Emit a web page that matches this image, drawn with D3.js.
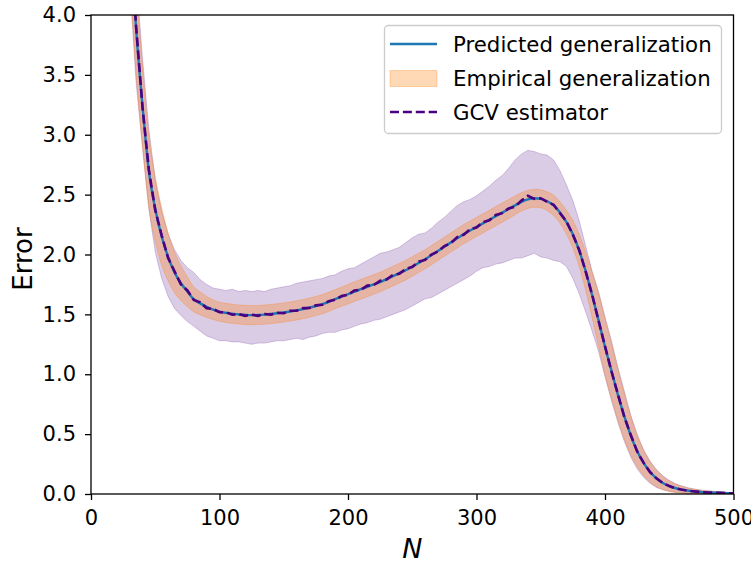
<!DOCTYPE html>
<html><head><meta charset="utf-8">
<script src="https://cdn.jsdelivr.net/npm/d3@7"></script>
<style>
html,body{margin:0;padding:0;background:#fff;}
svg{display:block;font-family:"DejaVu Sans",sans-serif;}
</style></head>
<body>
<svg id="chart" width="751" height="563"></svg>
<script>
// sample sizes N (every 5 from 30 to 500)
const nValues = d3.range(30, 501, 5);

const predicted = [
  4.80, 3.90, 3.25, 2.70, 2.38, 2.15, 1.98, 1.85, 1.76, 1.69,
  1.625, 1.592, 1.562, 1.54, 1.522, 1.512, 1.505, 1.499, 1.496, 1.494,
  1.495, 1.498, 1.503, 1.509, 1.516, 1.524, 1.533, 1.544, 1.556, 1.57,
  1.585, 1.605, 1.627, 1.648, 1.668, 1.69, 1.71, 1.73, 1.75, 1.77,
  1.795, 1.82, 1.845, 1.87, 1.90, 1.93, 1.96, 1.995, 2.03, 2.065,
  2.10, 2.135, 2.17, 2.20, 2.23, 2.26, 2.29, 2.32, 2.35, 2.38,
  2.41, 2.44, 2.46, 2.47, 2.465, 2.445, 2.41, 2.35, 2.27, 2.17,
  2.03, 1.86, 1.66, 1.45, 1.23, 1.03, 0.83, 0.65, 0.49, 0.36,
  0.26, 0.185, 0.13, 0.092, 0.066, 0.048, 0.036, 0.027, 0.021, 0.016,
  0.013, 0.011, 0.009, 0.007, 0.006
];

const empiricalStd = [
  0.45, 0.38, 0.33, 0.30, 0.27, 0.24, 0.20, 0.17, 0.145, 0.125,
  0.105, 0.095, 0.088, 0.083, 0.08, 0.08, 0.08, 0.08, 0.08, 0.08,
  0.08, 0.08, 0.08, 0.08, 0.08, 0.08, 0.08, 0.08, 0.08, 0.08,
  0.08, 0.08, 0.08, 0.08, 0.082, 0.082, 0.082, 0.082, 0.082, 0.082,
  0.082, 0.082, 0.082, 0.082, 0.082, 0.08, 0.08, 0.08, 0.08, 0.08,
  0.08, 0.08, 0.08, 0.08, 0.08, 0.08, 0.08, 0.08, 0.08, 0.08,
  0.078, 0.076, 0.075, 0.075, 0.075, 0.078, 0.085, 0.09, 0.10, 0.115,
  0.135, 0.16, 0.19, 0.22, 0.23, 0.23, 0.21, 0.19, 0.16, 0.13,
  0.105, 0.085, 0.068, 0.053, 0.042, 0.034, 0.027, 0.022, 0.018, 0.014,
  0.012, 0.01, 0.008, 0.006, 0.005
];

const gcvMean = [
  4.78, 3.92, 3.24, 2.71, 2.37, 2.16, 1.97, 1.86, 1.75, 1.70,
  1.62, 1.60, 1.552, 1.545, 1.518, 1.518, 1.497, 1.503, 1.488, 1.498,
  1.488, 1.503, 1.498, 1.514, 1.51, 1.53, 1.53, 1.552, 1.553, 1.575,
  1.58, 1.61, 1.622, 1.653, 1.663, 1.70, 1.705, 1.74, 1.745, 1.78,
  1.79, 1.83, 1.84, 1.88, 1.895, 1.94, 1.955, 2.00, 2.025, 2.07,
  2.095, 2.145, 2.165, 2.21, 2.225, 2.27, 2.285, 2.33, 2.345, 2.385,
  2.40, 2.45, 2.49, 2.465, 2.47, 2.44, 2.415, 2.345, 2.275, 2.165,
  2.035, 1.855, 1.665, 1.445, 1.235, 1.025, 0.835, 0.645, 0.495, 0.355,
  0.262, 0.183, 0.131, 0.091, 0.067, 0.047, 0.036, 0.027, 0.021, 0.016,
  0.013, 0.011, 0.009, 0.007, 0.006
];

const gcvHigh = [
  5.30, 4.35, 3.65, 3.05, 2.62, 2.36, 2.17, 2.04, 1.95, 1.89,
  1.85, 1.79, 1.75, 1.72, 1.71, 1.70, 1.71, 1.69, 1.70, 1.69,
  1.70, 1.69, 1.71, 1.72, 1.73, 1.74, 1.76, 1.77, 1.78, 1.79,
  1.80, 1.82, 1.83, 1.86, 1.88, 1.89, 1.92, 1.95, 1.98, 2.01,
  2.02, 2.04, 2.06, 2.10, 2.14, 2.17, 2.18, 2.22, 2.27, 2.31,
  2.36, 2.41, 2.44, 2.46, 2.49, 2.53, 2.57, 2.62, 2.66, 2.72,
  2.79, 2.84, 2.87, 2.86, 2.84, 2.83, 2.79, 2.70, 2.58, 2.45,
  2.28, 2.07, 1.86, 1.69, 1.48, 1.28, 1.06, 0.86, 0.66, 0.50,
  0.37, 0.275, 0.205, 0.152, 0.114, 0.086, 0.066, 0.051, 0.041, 0.032,
  0.027, 0.022, 0.018, 0.014, 0.012
];

const gcvLow = [
  4.30, 3.45, 2.90, 2.38, 2.02, 1.80, 1.65, 1.55, 1.49, 1.44,
  1.40, 1.36, 1.32, 1.30, 1.28, 1.28, 1.27, 1.27, 1.26, 1.25,
  1.26, 1.26, 1.27, 1.28, 1.28, 1.29, 1.30, 1.29, 1.31, 1.32,
  1.34, 1.35, 1.35, 1.37, 1.38, 1.40, 1.42, 1.43, 1.45, 1.46,
  1.48, 1.50, 1.52, 1.54, 1.57, 1.60, 1.63, 1.64, 1.67, 1.70,
  1.73, 1.76, 1.79, 1.82, 1.86, 1.89, 1.90, 1.92, 1.93, 1.95,
  1.97, 1.97, 1.99, 2.01, 1.98, 1.97, 1.95, 1.94, 1.90, 1.80,
  1.67, 1.52, 1.36, 1.19, 0.98, 0.78, 0.60, 0.44, 0.31, 0.21,
  0.14, 0.09, 0.055, 0.035, 0.021, 0.013, 0.009, 0.005, 0.003, 0.002,
  0.002, 0.001, 0.001, 0.001, 0.001
];

const xTicks = [0, 100, 200, 300, 400, 500];
const yTicks = [0, 0.5, 1, 1.5, 2, 2.5, 3, 3.5, 4];
const legendLabels = ["Predicted generalization", "Empirical generalization", "GCV estimator"];

const svg = d3.select("#chart");
const M = {left: 91, top: 15, right: 733.5, bottom: 494};
const x = d3.scaleLinear().domain([0, 500]).range([M.left, M.right]);
const y = d3.scaleLinear().domain([0, 4]).range([M.bottom, M.top]);

const rows = nValues.map((n, i) => ({
  n, p: predicted[i], s: empiricalStd[i], g: gcvMean[i], lo: gcvLow[i], hi: gcvHigh[i]
}));

svg.append("defs").append("clipPath").attr("id", "clip")
  .append("rect").attr("x", M.left).attr("y", M.top)
  .attr("width", M.right - M.left).attr("height", M.bottom - M.top);

const plot = svg.append("g").attr("clip-path", "url(#clip)");

const purple = "#4b0082";
const orange = "#ff7f0e";
const blue = "#1f77b4";

// GCV band
plot.append("path").datum(rows)
  .attr("d", d3.area().x(d => x(d.n)).y0(d => y(d.lo)).y1(d => y(d.hi)))
  .attr("fill", purple).attr("fill-opacity", 0.2)
  .attr("stroke", purple).attr("stroke-opacity", 0.2).attr("stroke-width", 1);

// Empirical band
plot.append("path").datum(rows)
  .attr("d", d3.area().curve(d3.curveMonotoneX).x(d => x(d.n)).y0(d => y(d.p - d.s)).y1(d => y(d.p + d.s)))
  .attr("fill", orange).attr("fill-opacity", 0.3)
  .attr("stroke", orange).attr("stroke-opacity", 0.3).attr("stroke-width", 1);

// Predicted line
plot.append("path").datum(rows)
  .attr("d", d3.line().curve(d3.curveMonotoneX).x(d => x(d.n)).y(d => y(d.p)))
  .attr("fill", "none").attr("stroke", blue).attr("stroke-width", 2.4);

// GCV dashed
plot.append("path").datum(rows)
  .attr("d", d3.line().x(d => x(d.n)).y(d => y(d.g)))
  .attr("fill", "none").attr("stroke", purple).attr("stroke-width", 2.6)
  .attr("stroke-dasharray", "9,3.9");

// axes
const xAxis = svg.append("g").attr("transform", `translate(0,${M.bottom})`)
  .call(d3.axisBottom(x).tickValues(xTicks).tickFormat(d3.format("d")).tickSize(6).tickPadding(10));
const yAxis = svg.append("g").attr("transform", `translate(${M.left},0)`)
  .call(d3.axisLeft(y).tickValues(yTicks).tickFormat(d3.format(".1f")).tickSize(6).tickPadding(9));
[xAxis, yAxis].forEach(a => {
  a.select(".domain").remove();
  a.selectAll("line").attr("stroke", "#000").attr("stroke-width", 1.3);
  a.selectAll("text").attr("fill", "#000").style("font-size", "21px").style("font-family", "DejaVu Sans");
});
// frame
svg.append("rect").attr("x", M.left).attr("y", M.top)
  .attr("width", M.right - M.left).attr("height", M.bottom - M.top)
  .attr("fill", "none").attr("stroke", "#000").attr("stroke-width", 1.3);

// axis labels
svg.append("text").attr("x", (M.left + M.right) / 2).attr("y", 558)
  .attr("text-anchor", "middle").style("font-size", "27px").style("font-style", "italic")
  .text("N");
svg.append("text").attr("transform", `translate(32,259) rotate(-90)`)
  .attr("text-anchor", "middle").style("font-size", "26px").text("Error");

// legend
const lg = svg.append("g");
lg.append("rect").attr("x", 384.5).attr("y", 25.5).attr("width", 337).attr("height", 108)
  .attr("rx", 4).attr("fill", "#fff").attr("fill-opacity", 0.8)
  .attr("stroke", "#cccccc").attr("stroke-width", 1.3);
const rowY = [44, 78.5, 112];
lg.append("line").attr("x1", 390).attr("x2", 437).attr("y1", rowY[0]).attr("y2", rowY[0])
  .attr("stroke", blue).attr("stroke-width", 2.4);
lg.append("rect").attr("x", 390).attr("y", rowY[1] - 8).attr("width", 47).attr("height", 16)
  .attr("fill", orange).attr("fill-opacity", 0.3).attr("stroke", orange).attr("stroke-opacity", 0.3);
lg.append("line").attr("x1", 390).attr("x2", 437).attr("y1", rowY[2]).attr("y2", rowY[2])
  .attr("stroke", purple).attr("stroke-width", 2.4).attr("stroke-dasharray", "9,3.9");
legendLabels.forEach((t, i) => {
  lg.append("text").attr("x", 453).attr("y", rowY[i]).attr("dy", "0.36em")
    .style("font-size", "21.3px").attr("fill", "#000").text(t);
});
</script>
</body></html>
